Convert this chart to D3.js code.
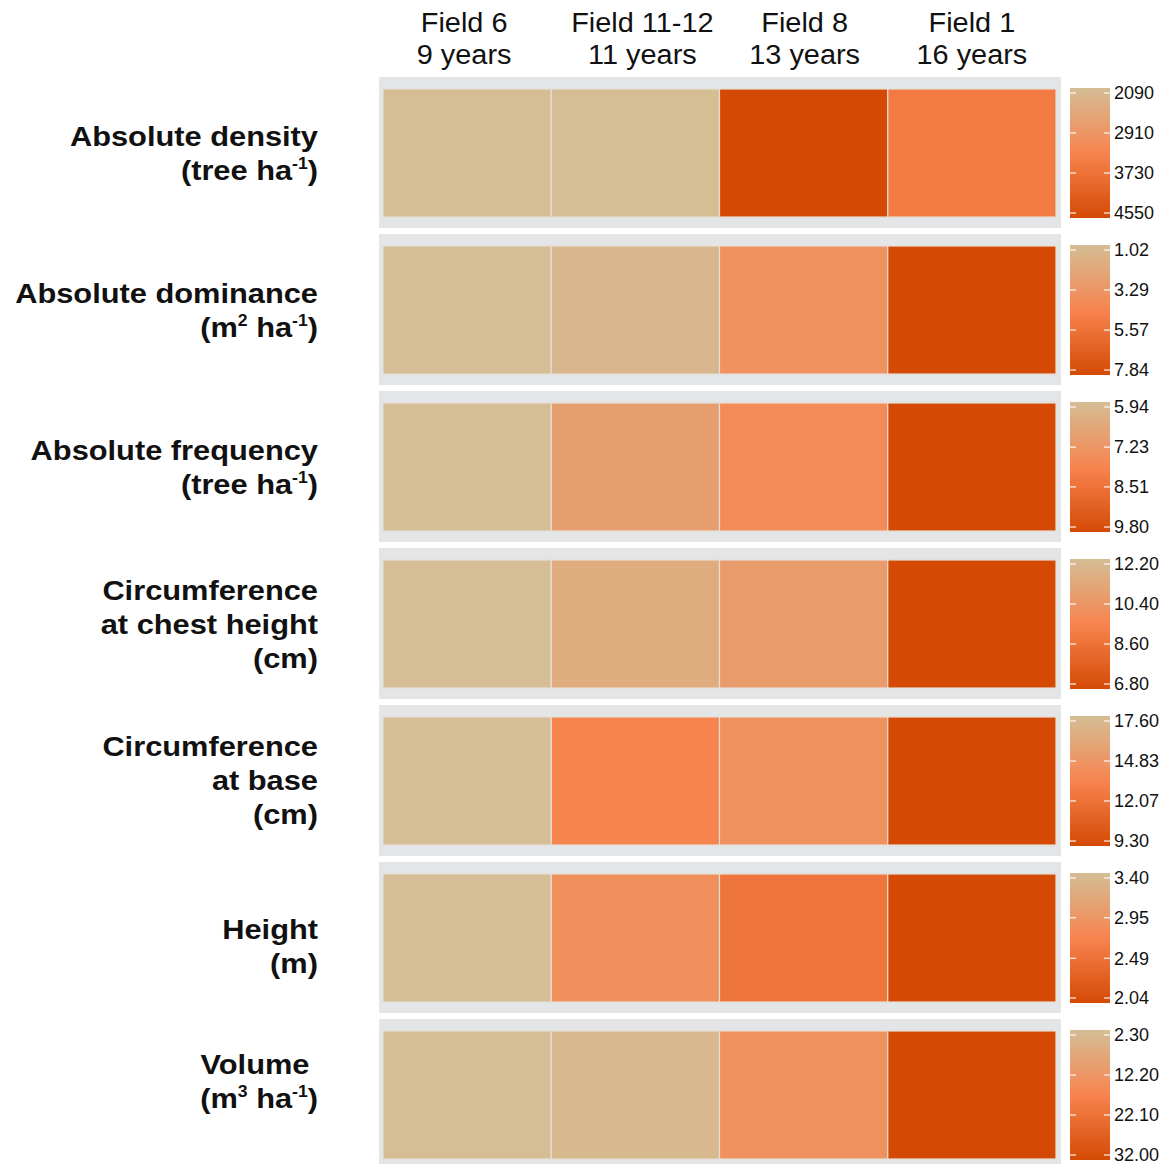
<!DOCTYPE html>
<html><head><meta charset="utf-8">
<script src="https://cdn.jsdelivr.net/npm/d3@7"></script>
<style>
body{margin:0;background:#fff}
text{font-family:"Liberation Sans",Arial,Helvetica,sans-serif;fill:#111}
</style>
</head><body><svg id="c" width="1166" height="1164"></svg>
<script>
const fields = ["Field 6","Field 11-12","Field 8","Field 1"];
const ages = ["9 years","11 years","13 years","16 years"];
const metrics = ["density","dominance","frequency","cch","cb","height","volume"];
const metricLabels = [
  ["Absolute density","(tree ha{-1})"],
  ["Absolute dominance","(m{2} ha{-1})"],
  ["Absolute frequency","(tree ha{-1})"],
  ["Circumference","at chest height","(cm)"],
  ["Circumference","at base","(cm)"],
  ["Height","(m)"],
  ["Volume ","(m{3} ha{-1})"]
];
const legendTicks = [
  ["2090","2910","3730","4550"],
  ["1.02","3.29","5.57","7.84"],
  ["5.94","7.23","8.51","9.80"],
  ["12.20","10.40","8.60","6.80"],
  ["17.60","14.83","12.07","9.30"],
  ["3.40","2.95","2.49","2.04"],
  ["2.30","12.20","22.10","32.00"]
];
const density   = [2090, 2100, 4550, 3520];
const dominance = [1.02, 1.35, 3.60, 7.84];
const frequency = [5.94, 6.98, 7.68, 9.80];
const cch       = [12.20, 11.40, 10.58, 6.80];
const cb        = [17.60, 13.45, 14.45, 9.30];
const height    = [3.40, 2.85, 2.55, 2.04];
const volume    = [2.30, 3.60, 13.60, 32.00];
const values = [density, dominance, frequency, cch, cb, height, volume];
const palette = ["#D5BD95","#F7844F","#D44A05"];

// layout tweaks (label vertical shifts per row)
const labelShift = [0, 0, 0, 0, 0, 9, -13];

const svg = d3.select("#c");
const interp = d3.piecewise(d3.interpolateRgb, palette);

const x = d3.scaleBand().domain(fields).range([383, 1056]);
const y = d3.scaleBand().domain(metrics).range([77, 1170]).paddingInner(0.038);
const bw = y.bandwidth();
const tileTop = 12, tileBottom = 11;

const defs = svg.append("defs");
const grad = defs.append("linearGradient").attr("id","lg").attr("x1",0).attr("x2",0).attr("y1",0).attr("y2",1);
d3.range(0, 1.0001, 0.05).forEach(t => grad.append("stop").attr("offset", t).attr("stop-color", interp(t)));

// column headers
const hdr = svg.append("g");
const hdrOffset = [-3, 7, 1, 0];
fields.forEach((f, i) => {
  const cx = x(f) + x.bandwidth() / 2 + hdrOffset[i];
  [f, ages[i]].forEach((s, k) => {
    hdr.append("text")
      .attr("transform", `translate(${cx},${32 + k * 32}) scale(1.07,1)`)
      .attr("text-anchor","middle").attr("font-size", 27).text(s);
  });
});

metrics.forEach((m, r) => {
  const g = svg.append("g");
  const y0 = y(m);
  const ticks = legendTicks[r].map(Number);
  const t = d3.scaleLinear().domain([ticks[0], ticks[3]]).range([0, 1]);

  g.append("rect").attr("x", 379).attr("y", y0).attr("width", 682).attr("height", bw).attr("fill", "#E4E5E6");

  g.selectAll("rect.tile").data(values[r]).join("rect").attr("class","tile")
    .attr("x", (d, i) => x(fields[i]))
    .attr("y", y0 + tileTop)
    .attr("width", x.bandwidth())
    .attr("height", bw - tileTop - tileBottom)
    .attr("fill", d => interp(Math.max(0, Math.min(1, t(d)))))
    .attr("stroke", "#E6DED4").attr("stroke-width", 1.2);

  // legend
  const top = y0 + tileTop - 1, bot = y0 + bw - tileBottom + 1;
  g.append("rect").attr("x", 1070).attr("y", top).attr("width", 40).attr("height", bot - top).attr("fill", "url(#lg)");
  const ly = d3.scaleLinear().domain([ticks[0], ticks[3]]).range([top + 5, bot - 5]);
  ticks.forEach(v => {
    g.append("line").attr("x1", 1070).attr("x2", 1076).attr("y1", ly(v)).attr("y2", ly(v)).attr("stroke", "#fff").attr("stroke-width", 1.3).attr("stroke-opacity", 0.85);
    g.append("line").attr("x1", 1104).attr("x2", 1110).attr("y1", ly(v)).attr("y2", ly(v)).attr("stroke", "#fff").attr("stroke-width", 1.3).attr("stroke-opacity", 0.85);
  });
  const ax = g.append("g").attr("transform", "translate(1110,0)")
    .call(d3.axisRight(ly).tickValues(ticks).tickFormat((d, i) => legendTicks[r][i]).tickSize(0).tickPadding(4));
  ax.select(".domain").remove();
  ax.selectAll("text").attr("font-size", 18).attr("font-family", null).style("fill", "#111");

  // row label
  const lines = metricLabels[r];
  const cy = y0 + bw / 2 + labelShift[r];
  lines.forEach((ln, i) => {
    const by = cy + (i - (lines.length - 1) / 2) * 34 + 10;
    const tx = g.append("text")
      .attr("transform", `translate(318,${by}) scale(1.1,1)`)
      .attr("text-anchor", "end").attr("font-size", 28).attr("font-weight", "bold").style("white-space", "pre");
    const parts = ln.split(/\{([^}]*)\}/);
    let raised = false;
    parts.forEach((p, k) => {
      if (p === "") return;
      if (k % 2 === 1) {
        tx.append("tspan").attr("font-size", 16).attr("dy", -11).text(p);
        raised = true;
      } else {
        tx.append("tspan").attr("dy", raised ? 11 : 0).text(p);
        raised = false;
      }
    });
  });
});
</script>
</body></html>
